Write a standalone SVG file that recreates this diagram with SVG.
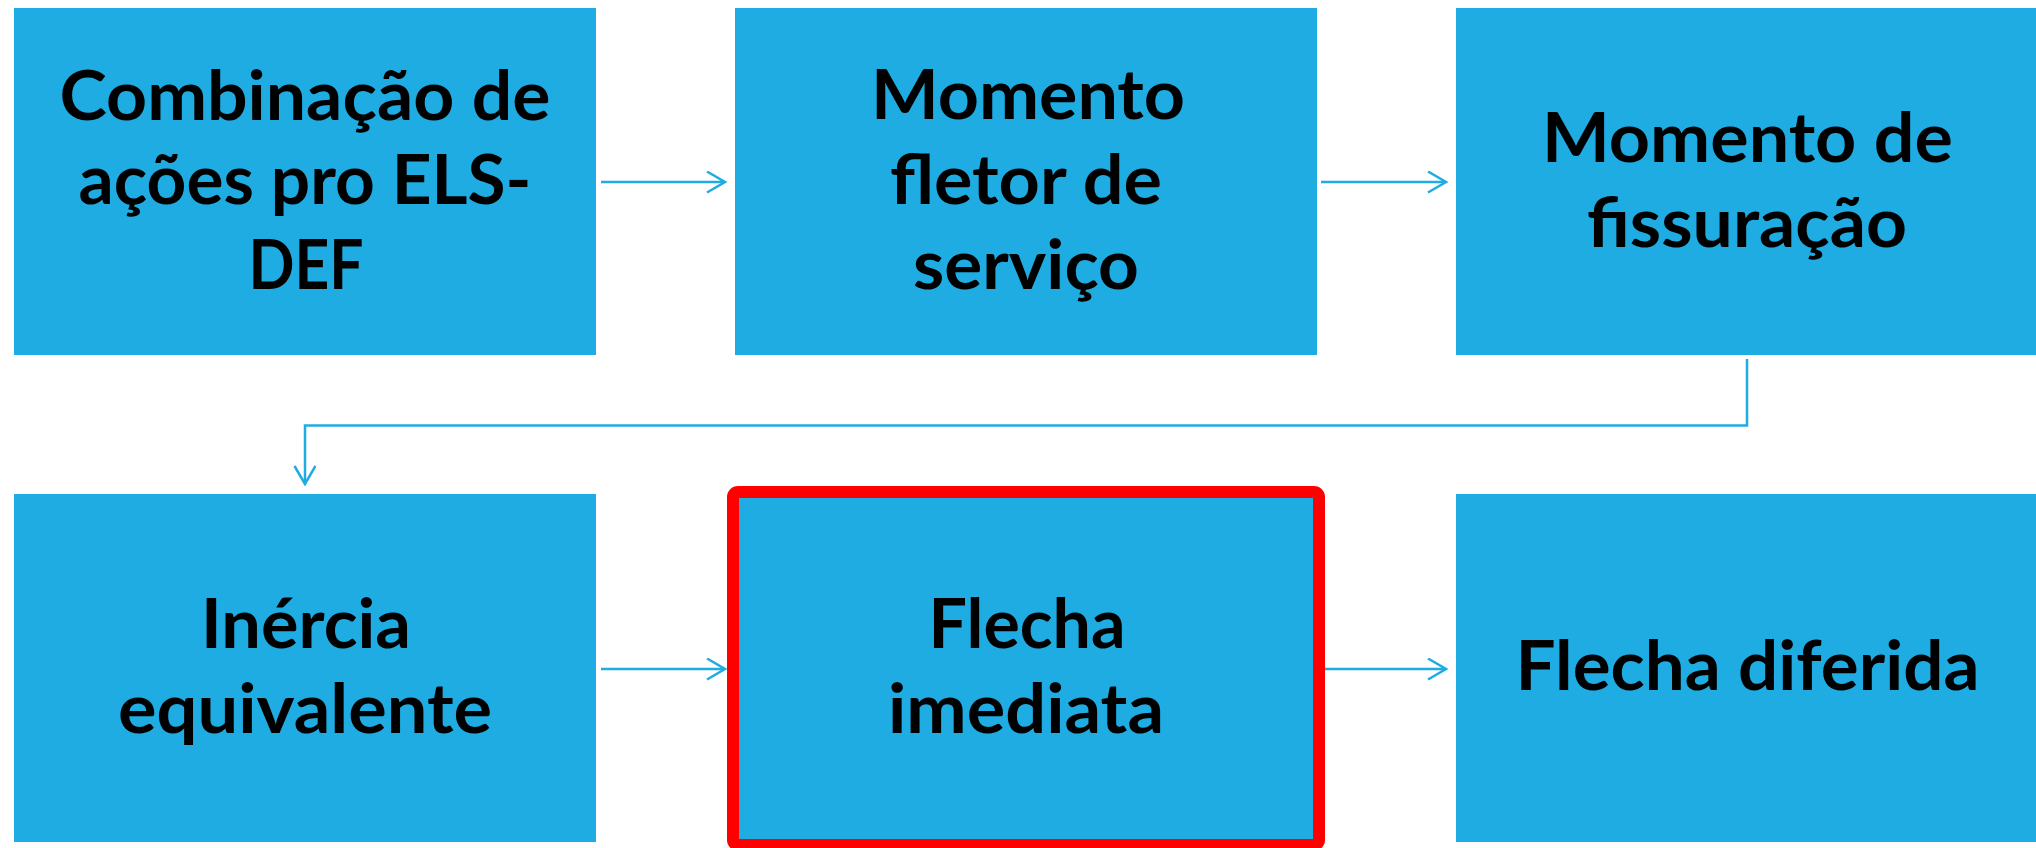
<svg xmlns="http://www.w3.org/2000/svg" width="2036" height="848" viewBox="0 0 2036 848">
<defs>
<style>
.box{fill:#1FACE3;}
.lbl{font-family:Lato,"Open Sans","Liberation Sans",sans-serif;font-weight:700;font-size:68px;fill:#000;text-anchor:middle;}
.con{fill:none;stroke:#1FACE3;stroke-width:2.5;marker-end:url(#arr);}
</style>
<marker id="arr" markerUnits="userSpaceOnUse" markerWidth="24" markerHeight="26" refX="19" refY="11" orient="auto" viewBox="0 0 24 26">
<path d="M1,0.5 L19,11 L1,21.5" fill="none" stroke="#1FACE3" stroke-width="2.5"/>
</marker>
</defs>
<rect width="2036" height="848" fill="#FFFFFF"/>
<g id="connectors">
<path class="con" d="M601,182 H725"/>
<path class="con" d="M1321,182 H1446"/>
<path class="con" d="M1747,359 V425.5 H305 V484"/>
<path class="con" d="M601,669 H725"/>
<path class="con" d="M1325,669 H1446"/>
</g>
<g id="node1">
<rect class="box" x="14" y="8" width="582" height="347"/>
<text class="lbl" x="305" y="120" textLength="491" lengthAdjust="spacingAndGlyphs">Combinação de</text>
<text class="lbl" x="305" y="204" textLength="453" lengthAdjust="spacingAndGlyphs">ações pro ELS-</text>
<text class="lbl" x="306" y="289" textLength="115" lengthAdjust="spacingAndGlyphs">DEF</text>
</g>
<g id="node2">
<rect class="box" x="735" y="8" width="582" height="347"/>
<text class="lbl" x="1028" y="119" textLength="314" lengthAdjust="spacingAndGlyphs">Momento</text>
<text class="lbl" x="1026" y="204" textLength="272" lengthAdjust="spacingAndGlyphs">fletor de</text>
<text class="lbl" x="1026" y="289" textLength="226" lengthAdjust="spacingAndGlyphs">serviço</text>
</g>
<g id="node3">
<rect class="box" x="1456" y="8" width="582" height="347"/>
<text class="lbl" x="1747.5" y="162" textLength="411" lengthAdjust="spacingAndGlyphs">Momento de</text>
<text class="lbl" x="1747" y="247" textLength="320" lengthAdjust="spacingAndGlyphs">fissuração</text>
</g>
<g id="node4">
<rect class="box" x="14" y="494" width="582" height="348"/>
<text class="lbl" x="306" y="648" textLength="210" lengthAdjust="spacingAndGlyphs">Inércia</text>
<text class="lbl" x="305" y="733" textLength="374" lengthAdjust="spacingAndGlyphs">equivalente</text>
</g>
<g id="node5">
<rect class="box" x="733" y="492" width="586" height="353" rx="5" ry="5" stroke="#FF0000" stroke-width="12"/>
<text class="lbl" x="1027" y="648" textLength="197" lengthAdjust="spacingAndGlyphs">Flecha</text>
<text class="lbl" x="1026" y="733" textLength="276" lengthAdjust="spacingAndGlyphs">imediata</text>
</g>
<g id="node6">
<rect class="box" x="1456" y="494" width="582" height="348"/>
<text class="lbl" x="1747.5" y="690" textLength="464" lengthAdjust="spacingAndGlyphs">Flecha diferida</text>
</g>
</svg>
